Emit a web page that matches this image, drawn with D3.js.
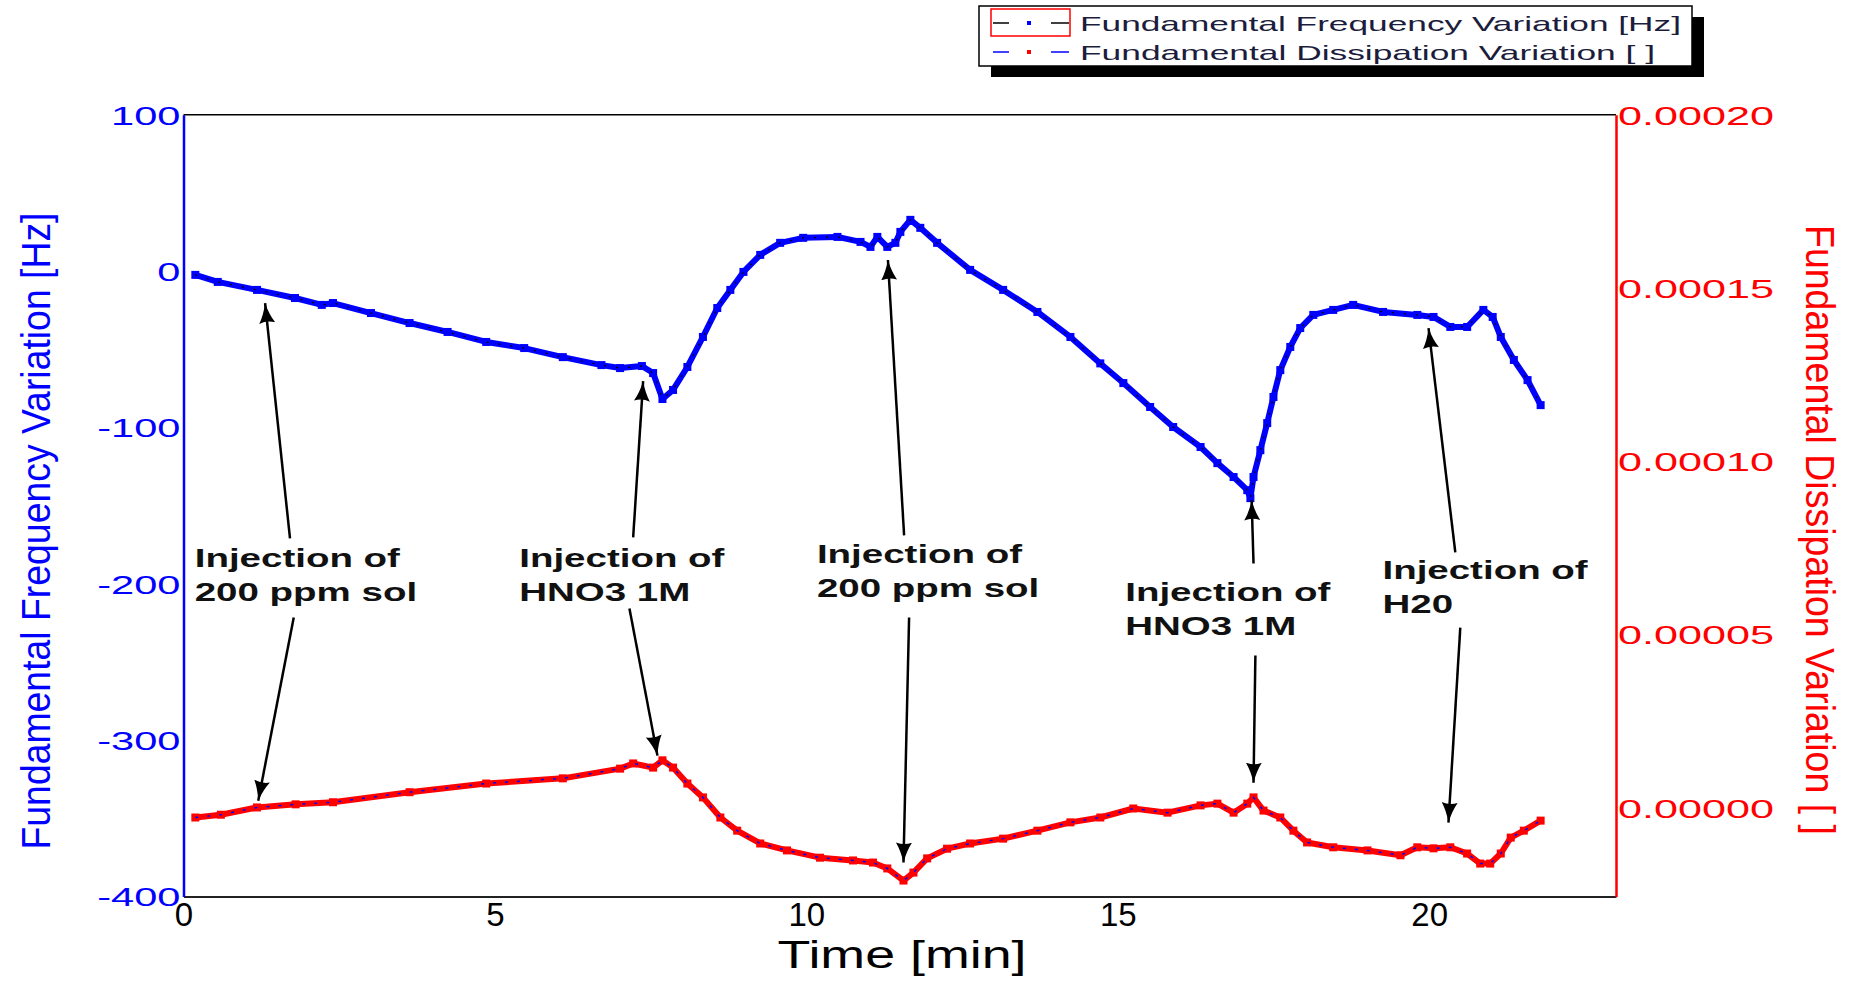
<!DOCTYPE html>
<html>
<head>
<meta charset="utf-8">
<script src="https://cdn.jsdelivr.net/npm/d3@7"></script>
<style>
  body { margin: 0; background: #fff; }
  text { font-family: "Liberation Sans", Arial, sans-serif; }
</style>
</head>
<body>
<svg id="chart"></svg>
<script>
// QCM frequency / dissipation trace with injection annotations

// Fundamental frequency variation [Hz]
const freqTime = [0.19, 0.55, 1.18, 1.79, 2.22, 2.4, 3.01, 3.63, 4.24, 4.86, 5.47, 6.09, 6.71, 7.01, 7.36, 7.54, 7.69, 7.86,
                  8.09, 8.34, 8.57, 8.78, 8.99, 9.26, 9.58, 9.95, 10.5, 10.87, 11.03, 11.14, 11.3, 11.43, 11.51, 11.67, 11.83,
                  12.1, 12.63, 13.16, 13.71, 14.24, 14.72, 15.09, 15.52, 15.89, 16.33, 16.6, 16.86, 17.08, 17.13, 17.18,
                  17.29, 17.4, 17.5, 17.61, 17.77, 17.93, 18.14, 18.46, 18.78, 19.26, 19.81, 20.07, 20.34, 20.61, 20.87,
                  21.02, 21.15, 21.36, 21.58, 21.79];
const freqHz   = [-2.4, -6.9, -12, -17.2, -21.6, -20.4, -26.8, -33.2, -38.9, -45.3, -49.2, -55, -60.1, -62, -60.7, -65.2, -81.8, -76,
                  -61.3, -42.1, -23.6, -12, -0.5, 10.4, 18.1, 21.3, 21.9, 18.7, 15.5, 21.9, 15.5, 18.1, 25.1, 32.8, 27.7,
                  18.1, 0.8, -12, -26.1, -42.1, -59, -71.6, -86.9, -99.7, -112.5, -122.8, -131.7, -140.1, -145.2, -131.7,
                  -114.5, -97.2, -80.5, -63.3, -48.5, -36.4, -28, -24.8, -21.6, -26.1, -28, -29.3, -35.7, -35.7, -24.8,
                  -29.3, -42.1, -56.8, -69.7, -85.7];

// Fundamental dissipation variation [ ]
const dissTime  = [0.19, 0.6, 1.18, 1.8, 2.4, 3.63, 4.86, 6.09, 7.01, 7.22, 7.54, 7.69, 7.86, 8.09, 8.34, 8.62, 8.89, 9.26,
                   9.69, 10.22, 10.75, 11.07, 11.3, 11.56, 11.72, 11.94, 12.26, 12.63, 13.16, 13.71, 14.24, 14.72, 15.25,
                   15.8, 16.33, 16.6, 16.86, 17.08, 17.18, 17.34, 17.61, 17.82, 18.04, 18.46, 19.01, 19.54, 19.81, 20.07,
                   20.34, 20.61, 20.82, 20.98, 21.15, 21.31, 21.52, 21.79];
const dissValue = [-0.28e-5, -0.2e-5, 0.01e-5, 0.1e-5, 0.16e-5, 0.45e-5, 0.70e-5, 0.85e-5, 1.13e-5, 1.28e-5, 1.16e-5, 1.37e-5,
                   1.16e-5, 0.70e-5, 0.30e-5, -0.28e-5, -0.66e-5, -1.03e-5, -1.23e-5, -1.44e-5, -1.52e-5, -1.58e-5, -1.75e-5,
                   -2.1e-5, -1.87e-5, -1.46e-5, -1.18e-5, -1.03e-5, -0.89e-5, -0.66e-5, -0.42e-5, -0.28e-5, -0.02e-5,
                   -0.14e-5, 0.07e-5, 0.12e-5, -0.14e-5, 0.12e-5, 0.30e-5, -0.08e-5, -0.28e-5, -0.66e-5, -1.0e-5, -1.14e-5,
                   -1.23e-5, -1.37e-5, -1.14e-5, -1.17e-5, -1.14e-5, -1.32e-5, -1.61e-5, -1.61e-5, -1.32e-5, -0.86e-5,
                   -0.66e-5, -0.37e-5];

// axis ticks
const timeTicks = [0, 5, 10, 15, 20];
const freqTicks = [-400, -300, -200, -100, 0, 100];
const dissTicks = [0, 0.00005, 0.0001, 0.00015, 0.0002];

// annotations, in (time, Hz) coordinates
const noteLines = [["Injection of", "200 ppm sol"], ["Injection of", "HNO3 1M"], ["Injection of", "200 ppm sol"],
                   ["Injection of", "HNO3 1M"], ["Injection of", "H20"]];
const noteAt    = [[0.18, -189.5], [5.39, -189.5], [10.17, -187], [15.12, -210.7], [19.25, -196.6]];
const arrowsUp   = [[1.71, -171, 1.31, -20.5], [7.22, -170.3, 7.38, -70.4], [11.57, -169, 11.31, 7.1],
                    [17.18, -187, 17.15, -146.6], [20.42, -179.9, 19.99, -36.5]];
const arrowsDown = [[1.77, -221.5, 1.2, -338.7], [7.16, -215.8, 7.61, -309.9], [11.65, -221.5, 11.56, -378.3],
                    [17.21, -245.9, 17.18, -327.2], [20.5, -228, 20.31, -352.7]];

const legendLabels = ["Fundamental Frequency Variation [Hz]", "Fundamental Dissipation Variation [ ]"];

// plot frame
const W = 1856, H = 984;
const plot = { left: 183.5, right: 1616, top: 114.8, bottom: 896.5 };

const svg = d3.select("#chart").attr("width", W).attr("height", H);
svg.append("rect").attr("width", W).attr("height", H).attr("fill", "#fff");

const x = d3.scaleLinear().domain([0, 23]).range([plot.left, plot.right]);
const yL = d3.scaleLinear().domain([-400, 100]).range([plot.bottom, plot.top]);
const yR = d3.scaleLinear().domain([-0.0000256, 0.0002]).range([plot.bottom, plot.top]);

// the original renders its fonts wide; stretch text horizontally
function stretch(sel, k) {
  sel.each(function() {
    const n = this.getComputedTextLength();
    d3.select(this).attr("textLength", n * k).attr("lengthAdjust", "spacingAndGlyphs");
  });
}
function fitWidth(sel, w) {
  sel.attr("textLength", w).attr("lengthAdjust", "spacingAndGlyphs");
}

// plain hyphen instead of d3's unicode minus
const intFormat = d => String(d);

// frame line on top
svg.append("line").attr("x1", plot.left).attr("x2", plot.right).attr("y1", plot.top).attr("y2", plot.top)
  .attr("stroke", "#000").attr("stroke-width", 1.5);

// curves
const freqPts = d3.zip(freqTime, freqHz);
const dissPts = d3.zip(dissTime, dissValue);

const freqLine = d3.line().x(d => x(d[0])).y(d => yL(d[1]));
const dissLine = d3.line().x(d => x(d[0])).y(d => yR(d[1]));

svg.append("path").attr("d", dissLine(dissPts))
  .attr("fill", "none").attr("stroke", "#ff0000").attr("stroke-width", 6).attr("stroke-linejoin", "round");
svg.selectAll(".dissMark").data(dissPts).enter().append("rect")
  .attr("x", d => x(d[0]) - 4).attr("y", d => yR(d[1]) - 4).attr("width", 8).attr("height", 8).attr("fill", "#ff0000");
svg.append("path").attr("d", dissLine(dissPts))
  .attr("fill", "none").attr("stroke", "#0000ff").attr("stroke-width", 1.5).attr("stroke-dasharray", "3,9");

svg.append("path").attr("d", freqLine(freqPts))
  .attr("fill", "none").attr("stroke", "#0000ff").attr("stroke-width", 6).attr("stroke-linejoin", "round");
svg.selectAll(".freqMark").data(freqPts).enter().append("rect")
  .attr("x", d => x(d[0]) - 4).attr("y", d => yL(d[1]) - 4).attr("width", 8).attr("height", 8).attr("fill", "#0000ff");
svg.append("path").attr("d", freqLine(freqPts))
  .attr("fill", "none").attr("stroke", "#000").attr("stroke-width", 1.2).attr("stroke-dasharray", "2,10");

// axes
const xAxis = svg.append("g").attr("transform", "translate(0," + plot.bottom + ")")
  .call(d3.axisBottom(x).tickValues(timeTicks).tickSize(0).tickPadding(6).tickFormat(intFormat));
xAxis.select(".domain").attr("stroke", "#222").attr("stroke-width", 2);
xAxis.selectAll("text").attr("fill", "#000").style("font-size", "33px");

const leftAxis = svg.append("g").attr("transform", "translate(" + plot.left + ",0)")
  .call(d3.axisLeft(yL).tickValues(freqTicks).tickSize(0).tickPadding(3).tickFormat(intFormat));
leftAxis.select(".domain").attr("stroke", "#0000ff").attr("stroke-width", 2.5);
leftAxis.selectAll("text").attr("fill", "#0000ff").style("font-size", "26px").attr("dy", "0.36em").call(stretch, 1.6);

const rightAxis = svg.append("g").attr("transform", "translate(" + plot.right + ",0)")
  .call(d3.axisRight(yR).tickValues(dissTicks).tickSize(0).tickPadding(2).tickFormat(d => d.toFixed(5)));
rightAxis.select(".domain").attr("stroke", "#ff0000").attr("stroke-width", 2.5);
rightAxis.selectAll("text").attr("fill", "#ff0000").style("font-size", "26px").attr("dy", "0.36em").call(stretch, 1.66);

// axis titles
svg.append("text")
  .attr("x", (x(10) + x(15)) / 2 - 60).attr("y", 968)
  .attr("text-anchor", "middle").attr("fill", "#000").style("font-size", "38px")
  .text("Time [min]").call(fitWidth, 249);

svg.append("text")
  .attr("transform", "translate(50,531) rotate(-90)")
  .attr("text-anchor", "middle").attr("fill", "#0000ff").style("font-size", "40px")
  .text("Fundamental Frequency Variation [Hz]").call(fitWidth, 637);

svg.append("text")
  .attr("transform", "translate(1806,530) rotate(90)")
  .attr("text-anchor", "middle").attr("fill", "#ff0000").style("font-size", "40px")
  .text("Fundamental Dissipation Variation [ ]").call(fitWidth, 610);

// arrow heads
svg.append("defs").append("marker")
  .attr("id", "head").attr("markerUnits", "userSpaceOnUse")
  .attr("viewBox", "0 -8 20 16").attr("refX", 20).attr("refY", 0)
  .attr("markerWidth", 20).attr("markerHeight", 16).attr("orient", "auto")
  .append("path").attr("d", "M0,-8 Q8,-3 20,0 Q8,3 0,8 Q3,0 0,-8Z").attr("fill", "#000");

svg.selectAll(".arrow").data(arrowsUp.concat(arrowsDown)).enter().append("line")
  .attr("x1", d => x(d[0])).attr("y1", d => yL(d[1]))
  .attr("x2", d => x(d[2])).attr("y2", d => yL(d[3]))
  .attr("stroke", "#000").attr("stroke-width", 2.5).attr("marker-end", "url(#head)");

// annotation text
noteLines.forEach((lines, i) => {
  lines.forEach((s, j) => {
    svg.append("text")
      .attr("x", x(noteAt[i][0])).attr("y", yL(noteAt[i][1]) + j * 34)
      .attr("fill", "#111").style("font-size", "26px").style("font-weight", "bold")
      .text(s).call(stretch, 1.48);
  });
});

// legend
const legend = svg.append("g");
legend.append("rect").attr("x", 991).attr("y", 17).attr("width", 713).attr("height", 60).attr("fill", "#000");
legend.append("rect").attr("x", 979).attr("y", 6).attr("width", 713).attr("height", 60)
  .attr("fill", "#fff").attr("stroke", "#000").attr("stroke-width", 1.5);
legend.append("rect").attr("x", 991).attr("y", 9).attr("width", 79).attr("height", 27)
  .attr("fill", "none").attr("stroke", "#ff0000").attr("stroke-width", 1.5);

const legendLine = ["#000", "#0000ff"];
const legendDot = ["#0000ff", "#ff0000"];
const legendWidth = [601, 575];
legendLabels.forEach((label, i) => {
  const cy = 23 + i * 29;
  legend.append("line").attr("x1", 993).attr("x2", 1009).attr("y1", cy).attr("y2", cy)
    .attr("stroke", legendLine[i]).attr("stroke-width", 1.5);
  legend.append("line").attr("x1", 1051).attr("x2", 1069).attr("y1", cy).attr("y2", cy)
    .attr("stroke", legendLine[i]).attr("stroke-width", 1.5);
  legend.append("rect").attr("x", 1027).attr("y", cy - 2).attr("width", 4).attr("height", 4).attr("fill", legendDot[i]);
  legend.append("text").attr("x", 1080).attr("y", cy + 8)
    .attr("fill", "#1c1c3c").style("font-size", "21px")
    .text(label).call(fitWidth, legendWidth[i]);
});
</script>
</body>
</html>
